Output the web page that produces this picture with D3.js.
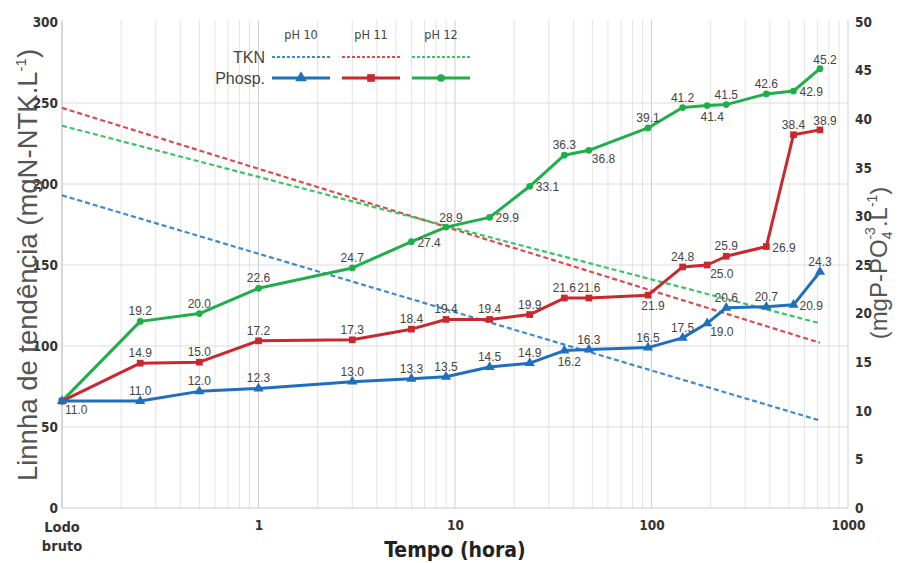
<!DOCTYPE html>
<html>
<head>
<meta charset="utf-8">
<script src="https://cdn.jsdelivr.net/npm/d3@7"></script>
<style>
  body { margin: 0; background: #fff; }
  svg { display: block; }
  .cond { font-family: "DejaVu Sans", sans-serif; font-stretch: condensed; font-weight: 700; }
  .tick text { font-family: "DejaVu Sans", sans-serif; font-stretch: condensed; font-weight: 700; }
</style>
</head>
<body>
<div id="chart"></div>
<script>
// Tempo (hora) — o "Lodo bruto" fica na posição 0.1 do eixo log
const hours = [0.1, 0.25, 0.5, 1, 3, 6, 9, 15, 24, 36, 48, 96, 144, 192, 240, 384, 528, 720];
const seriesNames = ["pH 10", "pH 11", "pH 12"];

// Fósforo (mgP-PO4-3.L-1), eixo direito
const phosPH10 = [11.0, 11.0, 12.0, 12.3, 13.0, 13.3, 13.5, 14.5, 14.9, 16.2, 16.3, 16.5, 17.5, 19.0, 20.6, 20.7, 20.9, 24.3];
const phosPH11 = [11.0, 14.9, 15.0, 17.2, 17.3, 18.4, 19.4, 19.4, 19.9, 21.6, 21.6, 21.9, 24.8, 25.0, 25.9, 26.9, 38.4, 38.9];
const phosPH12 = [11.0, 19.2, 20.0, 22.6, 24.7, 27.4, 28.9, 29.9, 33.1, 36.3, 36.8, 39.1, 41.2, 41.4, 41.5, 42.6, 42.9, 45.2];

// Linha de tendência TKN (mgN-NTK.L-1), eixo esquerdo: valor no início (Lodo bruto) e no fim (720 h)
const tknTrendHours = [0.1, 720];
const tknPH10 = [193, 54];
const tknPH11 = [247, 102];
const tknPH12 = [236, 114];

const leftTicks = [0, 50, 100, 150, 200, 250, 300];
const rightTicks = [0, 5, 10, 15, 20, 25, 30, 35, 40, 45, 50];
const xTicks = [1, 10, 100, 1000];

// posição dos rótulos (a = acima, b = abaixo, r = direita, br = abaixo à direita, ar = acima à direita, - = sem rótulo)
const labPH10 = ["-", "a", "a", "a", "a", "a", "a", "a", "a", "b", "a", "a", "a", "br", "a", "a", "r", "a"];
const labPH11 = ["-", "a", "a", "a", "a", "a", "a", "a", "a", "a", "a", "b", "a", "br", "a", "r", "a", "ar"];
const labPH12 = ["br", "a", "a", "a", "a", "r", "ar", "r", "r", "a", "br", "a", "a", "b", "a", "a", "r", "ar"];

const LAB_OFF = {
  a:  { dx: 0, dy: -6, anchor: "middle" },
  ar: { dx: 5, dy: -5, anchor: "middle" },
  b:  { dx: 5, dy: 15, anchor: "middle" },
  r:  { dx: 6, dy: 5, anchor: "start" },
  br: { dx: 3, dy: 13, anchor: "start" },
};

const colors = ["#1f6fbf", "#c8282e", "#1fae4a"];
const dashColors = ["#3d89d2", "#dc4a4f", "#3cc363"];
const symbols = [d3.symbolTriangle, d3.symbolSquare, d3.symbolCircle];

const W = 900, H = 563;
const svg = d3.select("#chart").append("svg").attr("width", W).attr("height", H);

const x = d3.scaleLog().domain([0.1, 1000]).range([62, 848]);
const yL = d3.scaleLinear().domain([0, 300]).range([508, 22]);
const yR = d3.scaleLinear().domain([0, 50]).range([508, 22]);

// --- grade ---
const grid = svg.append("g");
grid.selectAll("line.v")
  .data(x.ticks())
  .join("line")
  .attr("x1", d => x(d)).attr("x2", d => x(d))
  .attr("y1", yL(300) - 2).attr("y2", yL(0))
  .attr("stroke", d => Math.abs(Math.log10(d) - Math.round(Math.log10(d))) < 1e-6 ? "#cfcfcf" : "#e4e4e4")
  .attr("stroke-width", 1);

grid.selectAll("line.h")
  .data(leftTicks.filter(d => d > 0 && d < 300))
  .join("line")
  .attr("x1", x(0.1)).attr("x2", x(1000))
  .attr("y1", d => yL(d)).attr("y2", d => yL(d))
  .attr("stroke", "#dcdcdc");

grid.append("line")
  .attr("x1", x(0.1)).attr("x2", x(1000))
  .attr("y1", yL(0)).attr("y2", yL(0))
  .attr("stroke", "#c8c8c8");
grid.append("line")
  .attr("x1", x(0.1)).attr("x2", x(0.1))
  .attr("y1", yL(300)).attr("y2", yL(0))
  .attr("stroke", "#c8c8c8");

// --- eixos ---
const axL = svg.append("g")
  .attr("transform", `translate(${x(0.1)},0)`)
  .call(d3.axisLeft(yL).tickValues(leftTicks).tickSize(0).tickPadding(4));
axL.select(".domain").remove();

const axR = svg.append("g")
  .attr("transform", `translate(${x(1000)},0)`)
  .call(d3.axisRight(yR).tickValues(rightTicks).tickSize(0).tickPadding(7));
axR.select(".domain").remove();

const axB = svg.append("g")
  .attr("transform", `translate(0,${yL(0)})`)
  .call(d3.axisBottom(x).tickValues(xTicks).tickFormat(d3.format("d")).tickSize(0).tickPadding(12));
axB.select(".domain").remove();

svg.selectAll(".tick text").attr("font-size", 13.5).attr("fill", "#333");

svg.append("text")
  .attr("class", "cond")
  .attr("x", x(0.1)).attr("y", 532)
  .attr("text-anchor", "middle")
  .attr("font-size", 14.5).attr("fill", "#333")
  .call(t => {
    t.append("tspan").attr("x", x(0.1)).text("Lodo");
    t.append("tspan").attr("x", x(0.1)).attr("dy", 19).text("bruto");
  });

// títulos dos eixos
svg.append("text")
  .attr("class", "cond")
  .attr("x", 455).attr("y", 557)
  .attr("text-anchor", "middle")
  .attr("font-size", 21).attr("fill", "#222")
  .text("Tempo (hora)");

svg.append("text")
  .attr("transform", "translate(37,265) rotate(-90)")
  .attr("text-anchor", "middle")
  .attr("font-family", "Liberation Sans, Arial, sans-serif")
  .attr("font-size", 27.5).attr("fill", "#555")
  .call(t => {
    t.append("tspan").text("Linnha de tendência (mgN-NTK.L");
    t.append("tspan").attr("font-size", 15).attr("dy", -11).text("-1");
    t.append("tspan").attr("dy", 11).text(")");
  });

svg.append("text")
  .attr("transform", "translate(887,263) rotate(-90)")
  .attr("text-anchor", "middle")
  .attr("font-family", "Liberation Sans, Arial, sans-serif")
  .attr("font-size", 24).attr("fill", "#555")
  .call(t => {
    t.append("tspan").text("(mgP-PO");
    t.append("tspan").attr("font-size", 14).attr("dy", 5).text("4");
    t.append("tspan").attr("font-size", 14).attr("dx", -8).attr("dy", -17).text("-3");
    t.append("tspan").attr("dy", 12).text(".L");
    t.append("tspan").attr("font-size", 14).attr("dy", -10).text("-1");
    t.append("tspan").attr("dy", 10).text(")");
  });

// --- linhas de tendência TKN ---
const tkn = [tknPH10, tknPH11, tknPH12];
const lineTkn = d3.line().x((d, i) => x(tknTrendHours[i])).y(d => yL(d));
tkn.forEach((vals, s) => {
  svg.append("path")
    .datum(vals)
    .attr("fill", "none")
    .attr("stroke", dashColors[s])
    .attr("stroke-width", 2.2)
    .attr("stroke-dasharray", "5,3")
    .attr("d", lineTkn);
});

// --- fósforo ---
const phos = [phosPH10, phosPH11, phosPH12];
const labs = [labPH10, labPH11, labPH12];
const linePhos = d3.line().x((d, i) => x(hours[i])).y(d => yR(d));
const symSize = [45, 45, 36];

[2, 1, 0].forEach(s => {
  const g = svg.append("g");
  g.append("path")
    .datum(phos[s])
    .attr("fill", "none")
    .attr("stroke", colors[s])
    .attr("stroke-width", 3)
    .attr("stroke-linejoin", "round")
    .attr("d", linePhos);
  g.selectAll("path.pt")
    .data(phos[s])
    .join("path")
    .attr("class", "pt")
    .attr("transform", (d, i) => `translate(${x(hours[i])},${yR(d)})`)
    .attr("d", d3.symbol().type(symbols[s]).size(symSize[s]))
    .attr("fill", colors[s]);
});

// rótulos
[0, 1, 2].forEach(s => {
  svg.append("g").selectAll("text")
    .data(phos[s].map((v, i) => ({ v, i, p: labs[s][i] })).filter(d => d.p !== "-"))
    .join("text")
    .attr("x", d => x(hours[d.i]) + LAB_OFF[d.p].dx)
    .attr("y", d => yR(d.v) + LAB_OFF[d.p].dy)
    .attr("text-anchor", d => LAB_OFF[d.p].anchor)
    .attr("font-family", "Liberation Sans, Arial, sans-serif")
    .attr("font-size", 12).attr("fill", "#444")
    .text(d => d.v.toFixed(1));
});

// --- legenda ---
const leg = svg.append("g");
const legX0 = 272, legW = 58, legStep = 70;
leg.append("text").attr("x", 265).attr("y", 63).attr("text-anchor", "end")
  .attr("font-family", "Liberation Sans, Arial, sans-serif").attr("font-size", 16).attr("fill", "#444").text("TKN");
leg.append("text").attr("x", 265).attr("y", 84).attr("text-anchor", "end")
  .attr("font-family", "Liberation Sans, Arial, sans-serif").attr("font-size", 16).attr("fill", "#444").text("Phosp.");
seriesNames.forEach((name, s) => {
  const lx = legX0 + s * legStep;
  leg.append("text").attr("class", "cond").attr("x", lx + legW / 2).attr("y", 39).attr("text-anchor", "middle")
    .attr("font-size", 12.5).style("font-weight", 400).attr("fill", "#444").text(name);
  leg.append("line").attr("x1", lx).attr("x2", lx + legW).attr("y1", 57).attr("y2", 57)
    .attr("stroke", dashColors[s]).attr("stroke-width", 2.2).attr("stroke-dasharray", "3,2");
  leg.append("line").attr("x1", lx).attr("x2", lx + legW).attr("y1", 78).attr("y2", 78)
    .attr("stroke", colors[s]).attr("stroke-width", 3);
  leg.append("path").attr("transform", `translate(${lx + legW / 2},78)`)
    .attr("d", d3.symbol().type(symbols[s]).size(symSize[s] * 1.3)).attr("fill", colors[s]);
});
</script>
</body>
</html>
